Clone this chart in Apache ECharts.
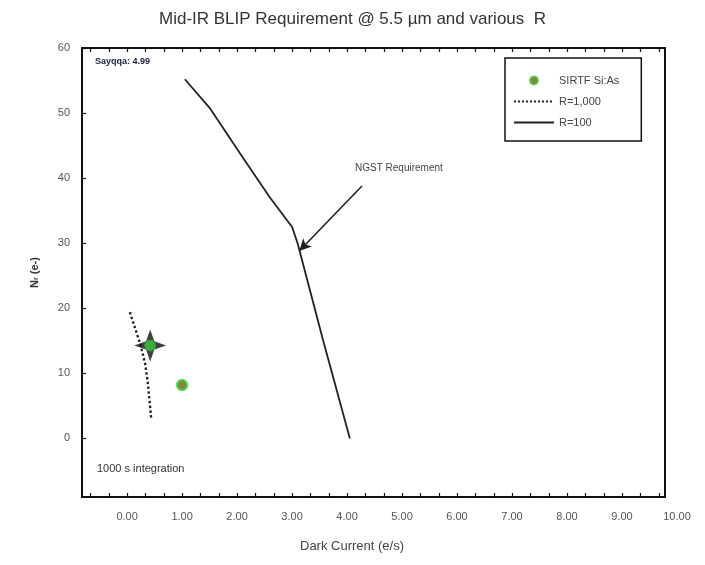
<!DOCTYPE html>
<html>
<head>
<meta charset="utf-8">
<script src="https://cdn.jsdelivr.net/npm/echarts@6/dist/echarts.min.js"></script>
<style>html,body{margin:0;padding:0;background:#fff}#c{width:705px;height:565px}</style>
</head>
<body>
<div id="c"></div>
<script>
// ---- data ----
var xTickLabels = [0,1,2,3,4,5,6,7,8,9,10];
var yTickLabels = [0,10,20,30,40,50,60];
var sirtfPoints = [[1.0, 8.2]];
var crossPoint = [[0.42, 14.3]];
var r1000 = [[0.05,19.4],[0.24,14.5],[0.33,11.4],[0.38,8.3],[0.44,2.9]];
var r100 = [[1.05,55.2],[1.5,50.8],[2.1,43.2],[2.6,37.0],[3.0,32.5],[3.1,30.0],[3.55,15.5],[4.05,0.0]];
var arrowFrom = [4.27, 38.8];
var arrowTo = [3.13, 28.8];
var xMinorTicks = [-0.67,-0.33,0,0.33,0.67,1,1.33,1.67,2,2.33,2.67,3,3.33,3.67,4,4.33,4.67,5,5.33,5.67,6,6.33,6.67,7,7.33,7.67,8,8.33,8.67,9,9.33,9.67];

var font = 'Liberation Sans, Arial, sans-serif';
var chart = echarts.init(document.getElementById('c'), null, {renderer:'canvas'});
chart.setOption({
  backgroundColor:'#fff',
  animation:false,
  title:{text:'Mid-IR BLIP Requirement @ 5.5 µm and various  R', left:'center', top:6,
    textStyle:{fontFamily:font, fontSize:17, fontWeight:'normal', color:'#333'}},
  legend:{
    orient:'vertical', left:505, top:58,
    padding:[17,22,13,8], itemGap:10, itemWidth:40, itemHeight:8,
    borderColor:'#111', borderWidth:1.5,
    textStyle:{fontFamily:font, fontSize:11, color:'#444'},
    data:[
      {name:'SIRTF Si:As', icon:'circle'},
      {name:'R=1,000', itemStyle:{opacity:0}},
      {name:'R=100', itemStyle:{opacity:0}}
    ]
  },
  grid:[
    {left:82, right:40, top:48, bottom:68, show:true, borderColor:'#111', borderWidth:2, backgroundColor:'transparent'},
    {left:82, width:595, top:48, bottom:68, show:false}
  ],
  xAxis:[
    {type:'value', gridIndex:0, min:-0.82, max:9.78, position:'bottom',
      axisLine:{show:false, onZero:false}, splitLine:{show:false},
      axisTick:{show:true, inside:true, length:4, customValues:xMinorTicks, lineStyle:{color:'#111', width:1.2}},
      axisLabel:{show:false}},
    {type:'value', gridIndex:0, min:-0.82, max:9.78, position:'top',
      axisLine:{show:false, onZero:false}, splitLine:{show:false},
      axisTick:{show:true, inside:true, length:4, customValues:xMinorTicks, lineStyle:{color:'#111', width:1.2}},
      axisLabel:{show:false}},
    {type:'value', gridIndex:1, min:-0.82, max:10.0, position:'bottom',
      axisLine:{show:false, onZero:false}, splitLine:{show:false}, axisTick:{show:false},
      axisLabel:{show:true, customValues:xTickLabels, margin:14,
        formatter:function(v){return v.toFixed(2);},
        fontFamily:font, fontSize:11, color:'#555'}}
  ],
  yAxis:[
    {type:'value', gridIndex:0, min:-9, max:60,
      axisLine:{show:false, onZero:false}, splitLine:{show:false},
      axisTick:{show:true, inside:true, length:4, customValues:yTickLabels, lineStyle:{color:'#111', width:1.2}},
      axisLabel:{show:true, customValues:yTickLabels, margin:12, fontFamily:font, fontSize:11, color:'#555'},
      name:'N{s|r} (e-)', nameLocation:'middle', nameRotate:90, nameGap:42,
      nameTextStyle:{fontFamily:font, fontSize:11, color:'#333', fontWeight:'bold',
        rich:{s:{fontSize:7, fontFamily:font, fontWeight:'bold', color:'#333', verticalAlign:'bottom'}}}},
    {type:'value', gridIndex:1, min:-9, max:60, show:false}
  ],
  series:[
    {name:'SIRTF Si:As', type:'scatter', xAxisIndex:0, yAxisIndex:0, data:sirtfPoints, symbolSize:10,
      itemStyle:{color:'#6e6418', borderColor:'#3fd23f', borderWidth:2.5}, z:5},
    {name:'R=1,000', type:'line', xAxisIndex:0, yAxisIndex:0, data:r1000, symbol:'none',
      lineStyle:{color:'#222', width:2.4, type:'dotted'}, itemStyle:{color:'#222'}},
    {name:'R=100', type:'line', xAxisIndex:0, yAxisIndex:0, data:r100, symbol:'none',
      lineStyle:{color:'#222', width:1.8}, itemStyle:{color:'#222'},
      markLine:{silent:true, symbol:['none','arrow'], symbolSize:[9,12],
        lineStyle:{color:'#222', width:1.6, type:'solid'}, label:{show:false},
        data:[[{coord:arrowFrom},{coord:arrowTo}]]}},
    {name:'cross', type:'scatter', xAxisIndex:0, yAxisIndex:0, data:crossPoint, symbolSize:32,
      symbol:'path://M0,-10 L2.6,-2.6 L10,0 L2.6,2.6 L0,10 L-2.6,2.6 L-10,0 L-2.6,-2.6 Z',
      itemStyle:{color:'#111'}, z:6},
    {name:'crossCenter', type:'scatter', xAxisIndex:0, yAxisIndex:0, data:crossPoint, symbolSize:11,
      symbol:'circle', itemStyle:{color:'#3cc43c', borderColor:'#2a9a2a', borderWidth:1}, z:7}
  ],
  graphic:[
    {type:'text', left:95, top:57, style:{text:'Sayqqa: 4.99', font:'bold 9px '+font, fill:'#1a2040'}},
    {type:'text', left:355, top:163, style:{text:'NGST Requirement', font:'10px '+font, fill:'#444'}},
    {type:'text', left:97, top:463, style:{text:'1000 s integration', font:'11px '+font, fill:'#333'}},
    {type:'text', left:300, top:540, style:{text:'Dark Current (e/s)', font:'13px '+font, fill:'#444'}}
  ]
});
</script>
</body>
</html>
